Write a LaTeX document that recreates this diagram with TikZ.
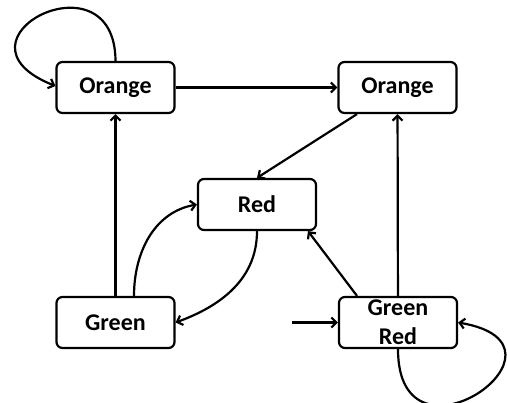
\documentclass[tikz,border=0pt]{standalone}
\usepackage{fontspec}
\setmainfont{Carlito}
\usetikzlibrary{arrows.meta,positioning}

\begin{document}
\begin{tikzpicture}[x=1pt,y=-1pt,->,>={Straight Barb[length=5pt,width=10pt]},line width=2.2pt,
                    every edge/.style={draw,line width=2.2pt},
                    light/.style={draw,rounded corners=6pt,fill=white,
                                  minimum width=118pt,minimum height=51pt,inner sep=0pt,
                                  align=center,font=\bfseries\fontsize{24}{29}\selectfont}]
	\useasboundingbox (0,0) rectangle (507,403);
	\node[light]	(o1)	at (115.5,87.5)		{Orange};
	\node[light]	(o2)	at (397.5,87.5)		{Orange};
	\node[light]	(r)	at (257,204.5)		{Red};
	\node[light]	(g)	at (115.5,322.5)	{Green};
	\node[light]	(gr)	at (398,322.5)		{Green\\Red};
	\coordinate	(start)	at (292,322.5);
	\draw (o1.north) .. controls (115,-50) and (-60,40) .. ([yshift=1.5pt]o1.west);
	\draw (gr.south) .. controls (398,480) and (590,345) .. (gr.east);
	\path	(o1)		edge					(o2)
		([xshift=-40.5pt]o2.south)	edge			(r.north)
		(g)		edge					(o1)
		([xshift=18.5pt]g.north)	edge	[out=90,in=190]	(r.west)
		(r.south)	edge	[out=270,in=20]			(g.east)
		([xshift=-41pt]gr.north)	edge			([xshift=51pt]r.south)
		(gr)		edge					(o2)
		(start)		edge					(gr.west);
\end{tikzpicture}
\end{document}
